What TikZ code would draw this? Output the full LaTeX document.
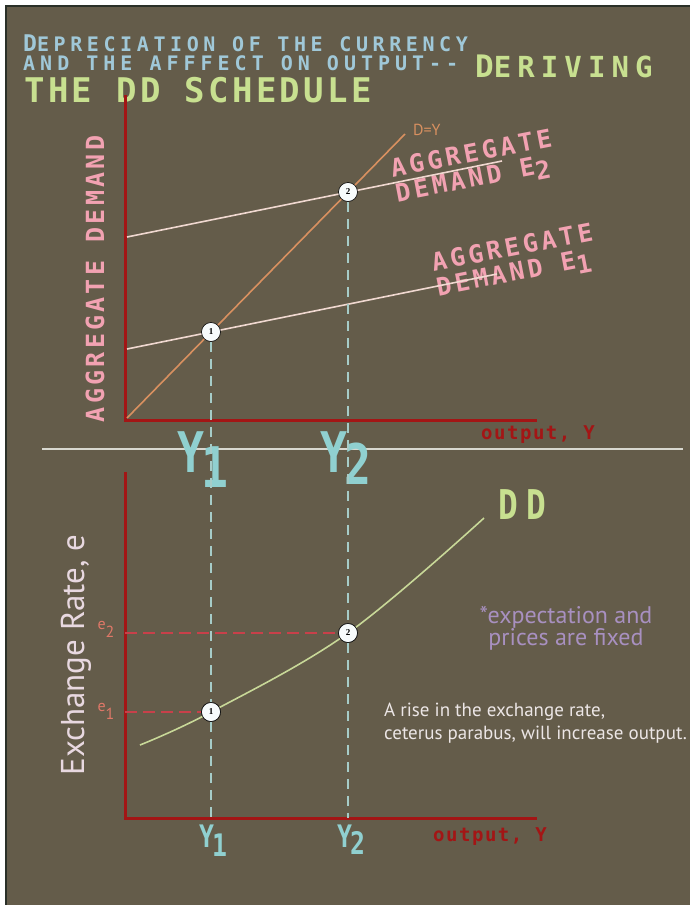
\documentclass[tikz,border=0pt]{standalone}
\usepackage{fontspec}
\setmainfont{PT Sans}
\newfontfamily\spacedmono{DejaVu Sans Mono}
\newfontfamily\condmono[FakeStretch=0.8]{DejaVu Sans Mono}
\newfontfamily\numfont{Liberation Serif}
\newcommand{\fsz}[1]{\fontsize{#1}{#1}\selectfont}
\newcommand{\lsp}[2]{\fontsize{#1}{#1}\selectfont\addfontfeature{LetterSpace=#2}}
\newcommand{\ysub}[2]{Y\kern-0.06em\raisebox{-#2}{#1}}
\definecolor{board}{HTML}{645C4A}
\definecolor{framedark}{HTML}{2A3028}
\definecolor{axisred}{HTML}{A31515}
\definecolor{titleblue}{HTML}{A0C8D8}
\definecolor{ddgreen}{HTML}{C8E090}
\definecolor{adpink}{HTML}{F2A2B2}
\definecolor{adline}{HTML}{F0D8D0}
\definecolor{dyorange}{HTML}{D89060}
\definecolor{ycyan}{HTML}{90D0D0}
\definecolor{guidecyan}{HTML}{A6CCC8}
\definecolor{edashred}{HTML}{C8404A}
\definecolor{elabel}{HTML}{E07868}
\definecolor{ddcurve}{HTML}{C8D898}
\definecolor{notepurple}{HTML}{A890C0}
\definecolor{notewhite}{HTML}{ECE6E6}
\definecolor{ratepink}{HTML}{E8D8E0}
\definecolor{sepgray}{HTML}{D8D8D0}
\tikzset{
  title/.style={
    anchor=base west,
    inner sep=0pt,
    font=\spacedmono\bfseries
  },
  axis/.style={
    draw=axisred,
    line width=3pt,
    line join=miter
  },
  adlabel/.style={
    adpink,
    rotate=11,
    align=left,
    inner sep=0pt,
    font=\spacedmono\bfseries\fontsize{25}{25}\selectfont\addfontfeature{LetterSpace=14}
  },
  ylabel/.style={
    ycyan,
    inner sep=0pt
  },
  eqpt/.style={
    shape=circle,
    draw=black,
    fill=white!92!titleblue,
    line width=0.6pt,
    minimum size=19pt,
    inner sep=0pt,
    font=\numfont\bfseries\fsz{9}
  },
  guide/.style={
    draw=guidecyan,
    line width=1.5pt,
    dash pattern=on 10pt off 7pt
  },
  edash/.style={
    draw=edashred,
    line width=2pt,
    dash pattern=on 12pt off 6pt
  },
  outlabel/.style={
    axisred,
    inner sep=0pt,
    font=\spacedmono\bfseries\lsp{19}{8}
  }
}
\begin{document}
\begin{tikzpicture}[x=1pt,y=-1pt]
  \useasboundingbox (0,0) rectangle (690,905);
  \fill[white] (0,0) rectangle (690,905);
  \fill[board] (6,6) rectangle (690,905);
  \draw[framedark,line width=2pt] (6,905) -- (6,6) -- (690,6);

  % title
  \node[title,titleblue] (t1) at (23,51) {\lsp{23}{18}D\lsp{20}{23}EPRECIATION OF THE CURRENCY};
  \node[title,titleblue] (t2) at (23,70) {\lsp{20}{25}AND THE AFFFECT ON OUTPUT--};
  \node[title,ddgreen] (t3) at (475,77) {\lsp{31}{19}D\lsp{29}{21}ERIVING};
  \node[title,ddgreen] (t4) at (24,102) {\lsp{34}{10}THE DD SCHEDULE};

  % upper graph
  \node[adpink,rotate=90,inner sep=0pt,font=\spacedmono\bfseries\lsp{25}{13}] (adaxis) at (95,279) {AGGREGATE DEMAND};
  \node[adlabel] (ad2lab) at (474,168) {AGGREGATE\\DEMAND E\raisebox{-6pt}{2}};
  \node[adlabel] (ad1lab) at (515,262) {AGGREGATE\\DEMAND E\raisebox{-6pt}{1}};
  \node[dyorange,anchor=west,inner sep=0pt,font=\fsz{16}] (dylab) at (413,130) {D=Y};
  \coordinate (o1) at (125,420);
  \coordinate (o2) at (125,818);
  \draw[axis] (125,95) -- (o1) -- (537,420);
  \draw[dyorange,line width=1.6pt] (127,418) -- (405,134);
  \draw[adline,line width=1.6pt] (127,349) -- (497,274);
  \draw[adline,line width=1.6pt] (127,237) -- (502,161);
  \node[outlabel] (out1) at (538,435) {output, Y};
  \draw[sepgray,line width=2.5pt] (42,449) -- (683,449);

  % lower graph
  \draw[axis] (125,472) -- (o2) -- (537,818);
  \node[ratepink,rotate=90,inner sep=0pt,font=\fsz{33}] (ratelab) at (76,655) {Exchange Rate, e};
  \node[elabel,font=\fsz{16}] (e2lab) at (106,629) {e\raisebox{-8pt}{2}};
  \node[elabel,font=\fsz{16}] (e1lab) at (106,711) {e\raisebox{-8pt}{1}};
  \node[outlabel] (out2) at (490,837) {output, Y};
  \node[ddgreen,inner sep=0pt,font=\condmono\bfseries\lsp{41}{20}] (ddlab) at (522,505) {DD};
  \node[notepurple,align=center,inner sep=0pt,font=\fontsize{24}{22}\selectfont] (fixed) at (566,628) {*expectation and\\prices are fixed};
  \node[notewhite,align=left,anchor=north west,inner sep=0pt,font=\fontsize{19}{23}\selectfont] (rise) at (384,703) {A rise in the exchange rate,\\ceterus parabus, will increase output.};

  \node[ylabel,font=\condmono\bfseries\fsz{56}] (y1top) at (203,460) {\ysub{1}{15pt}};
  \node[ylabel,font=\condmono\bfseries\fsz{56}] (y2top) at (346,458) {\ysub{2}{12pt}};
  \node[ylabel,font=\condmono\bfseries\fsz{31}] (y1bot) at (213,841) {\ysub{1}{9pt}};
  \node[ylabel,font=\condmono\bfseries\fsz{31}] (y2bot) at (351,840) {\ysub{2}{7pt}};

  \coordinate (ddlo) at (140,745);
  \coordinate (ddhi) at (484,518);
  \foreach \i/\x/\y/\e in {1/211/332/712,2/348/192/633}{
    \node[eqpt] (p\i) at (\x,\y) {\i};
    \node[eqpt] (q\i) at (\x,\e) {\i};
    \draw[guide] (p\i) -- (q\i);
    \draw[guide] (q\i) -- (q\i |- o2);
    \draw[edash] (q\i -| o2) -- (q\i);
  }
  \draw[ddcurve,line width=1.6pt] plot[smooth,tension=0.6] coordinates {(ddlo) (q1.center) (q2.center) (ddhi)};
  \foreach \i in {1,2}{
    \node[eqpt] at (q\i) {\i};
  }
\end{tikzpicture}
\end{document}
